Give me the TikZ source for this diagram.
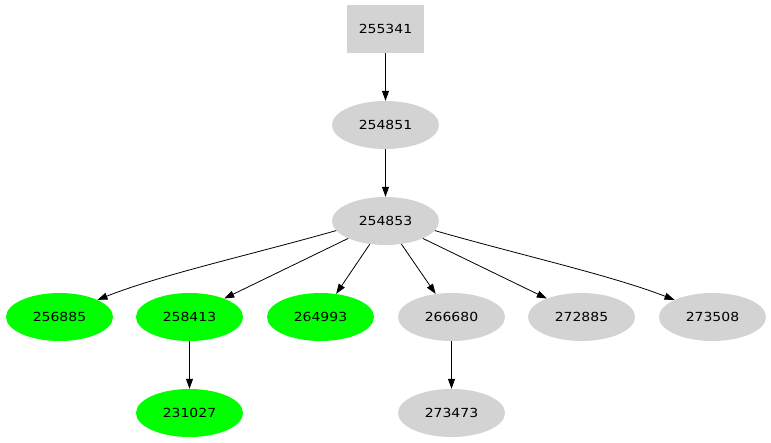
\documentclass[tikz,border=0pt]{standalone}
\usepackage{fontspec}
\setmainfont{DejaVu Sans}[FakeStretch=1.12]
\usetikzlibrary{arrows.meta,shapes.geometric}
\definecolor{lg}{HTML}{D3D3D3}
\definecolor{gr}{HTML}{00FF00}
\begin{document}
\begin{tikzpicture}[x=1pt,y=-1pt,
  base/.style={inner sep=0pt,font=\fontsize{12.5}{12.5}\selectfont},
  gbox/.style={base,rectangle,fill=lg,minimum width=77pt,minimum height=48pt},
  gell/.style={base,ellipse,fill=lg,minimum width=107pt,minimum height=48pt},
  grell/.style={base,ellipse,fill=gr,minimum width=107pt,minimum height=48pt},
  edge/.style={draw=black,line width=0.8pt,-{Triangle[length=10pt,width=7pt]}}]
\fill[white] (0,0) rectangle (771,443);
\useasboundingbox (0,0) rectangle (771,443);
\node[gbox] (a) at (385.5,29) {255341};
\node[gell] (b) at (385.5,125) {254851};
\node[gell] (c) at (385.5,221) {254853};
\node[grell] (d1) at (59.5,317) {256885};
\node[grell] (d2) at (189.5,317) {258413};
\node[grell] (d3) at (320.5,317) {264993};
\node[gell] (d4) at (451.5,317) {266680};
\node[gell] (d5) at (581.5,317) {272885};
\node[gell] (d6) at (712.5,317) {273508};
\node[grell] (e1) at (189.5,413) {231027};
\node[gell] (e2) at (451.5,413) {273473};
\draw[edge] (a) -- (b);
\draw[edge] (b) -- (c);
\draw[edge] (c.191) .. controls (250,255) and (160,275) .. (d1.north east);
\draw[edge] (c.205) -- (d2.28);
\draw[edge] (c) -- (d3);
\draw[edge] (c) -- (d4);
\draw[edge] (c.335) -- (d5.152);
\draw[edge] (c.349) .. controls (520,255) and (610,275) .. (d6.north west);
\draw[edge] (d2) -- (e1);
\draw[edge] (d4) -- (e2);
\end{tikzpicture}
\end{document}
